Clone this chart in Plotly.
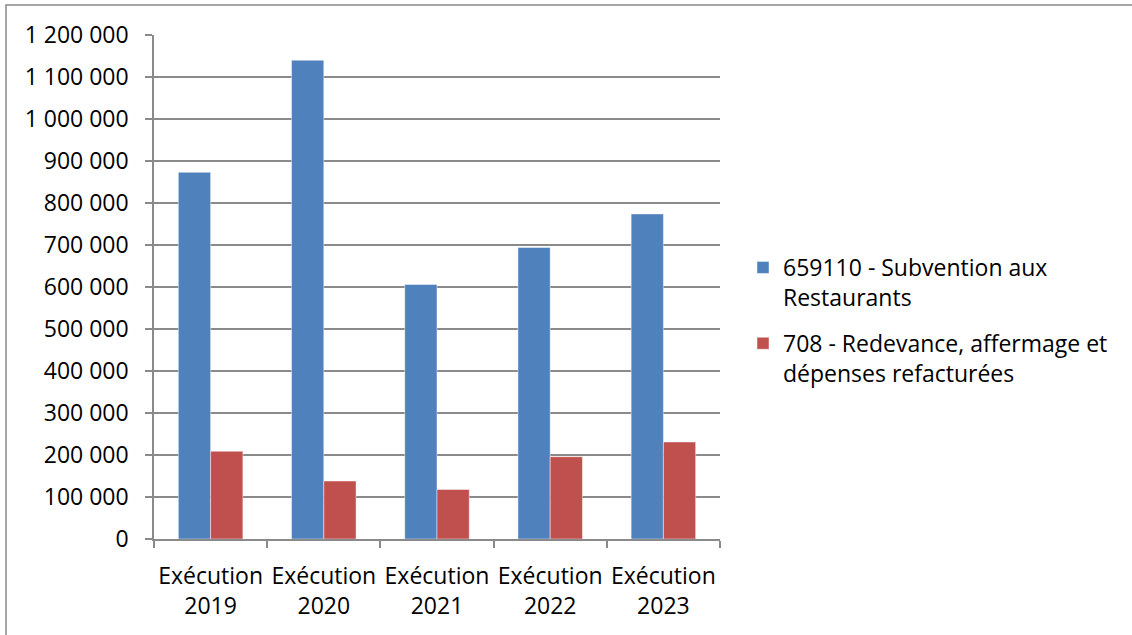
import plotly.graph_objects as go

# Budget execution by year
categories = ["Exécution<br>2019", "Exécution<br>2020", "Exécution<br>2021",
              "Exécution<br>2022", "Exécution<br>2023"]
subvention = [873000, 1140000, 606000, 694000, 774000]
redevance = [209000, 138000, 118000, 196000, 231000]
series_names = ["659110 - Subvention aux<br>Restaurants",
                "708 - Redevance, affermage et<br>dépenses refacturées"]
y_ticks = [0, 100000, 200000, 300000, 400000, 500000, 600000,
           700000, 800000, 900000, 1000000, 1100000, 1200000]

W, H = 1132, 635
L, R, T, B = 154, 412, 35, 96
PW, PH = W - L - R, H - T - B

FONT = "Open Sans"
FSIZE = 23
GRID = "#8a8a8a"

fig = go.Figure()
fig.add_trace(go.Bar(x=categories, y=subvention, name=series_names[0],
                     legendgroup="a",
                     marker=dict(color="#4F81BD",
                                 line=dict(color="rgba(255,255,255,0.45)", width=1))))
fig.add_trace(go.Bar(x=categories, y=redevance, name=series_names[1],
                     legendgroup="b",
                     marker=dict(color="#C0504D",
                                 line=dict(color="rgba(255,255,255,0.45)", width=1))))


def px_x(px):
    return (px - L) / PW


def px_y(py):
    return (H - B - py) / PH


fig.update_layout(
    width=W, height=H,
    margin=dict(l=L, r=R, t=T, b=B, pad=0, autoexpand=False),
    paper_bgcolor="white", plot_bgcolor="white",
    separators=", ",
    barmode="group", bargap=0.43, bargroupgap=0,
    font=dict(family=FONT, size=FSIZE, color="#000000"),
    showlegend=True,
    legend=dict(x=px_x(743), y=px_y(246), xanchor="left", yanchor="top",
                valign="top", tracegroupgap=13, bgcolor="rgba(0,0,0,0)",
                font=dict(family=FONT, size=FSIZE, color="#000000")),
    xaxis=dict(type="category", showgrid=False, showline=True,
               linecolor=GRID, linewidth=1.5, ticks="outside",
               tickson="boundaries", ticklen=7, tickcolor=GRID, tickwidth=1.5,
               tickangle=0, automargin=False,
               ticklabelstandoff=16, fixedrange=True),
    yaxis=dict(range=[0, 1200000], tickvals=y_ticks, tickformat=",d",
               showgrid=True, gridcolor=GRID, gridwidth=1.5,
               showline=True, linecolor=GRID, linewidth=1.5,
               ticks="outside", ticklen=7, tickcolor=GRID, tickwidth=1.5,
               automargin=False,
               ticklabelstandoff=12, zeroline=False, fixedrange=True),
    shapes=[dict(type="rect", xref="paper", yref="paper",
                 x0=px_x(6), x1=px_x(W + 10), y0=px_y(H + 10), y1=px_y(5),
                 line=dict(color="#898989", width=1.5), layer="below")],
)

fig.write_html("out.html", config={"displayModeBar": False})
